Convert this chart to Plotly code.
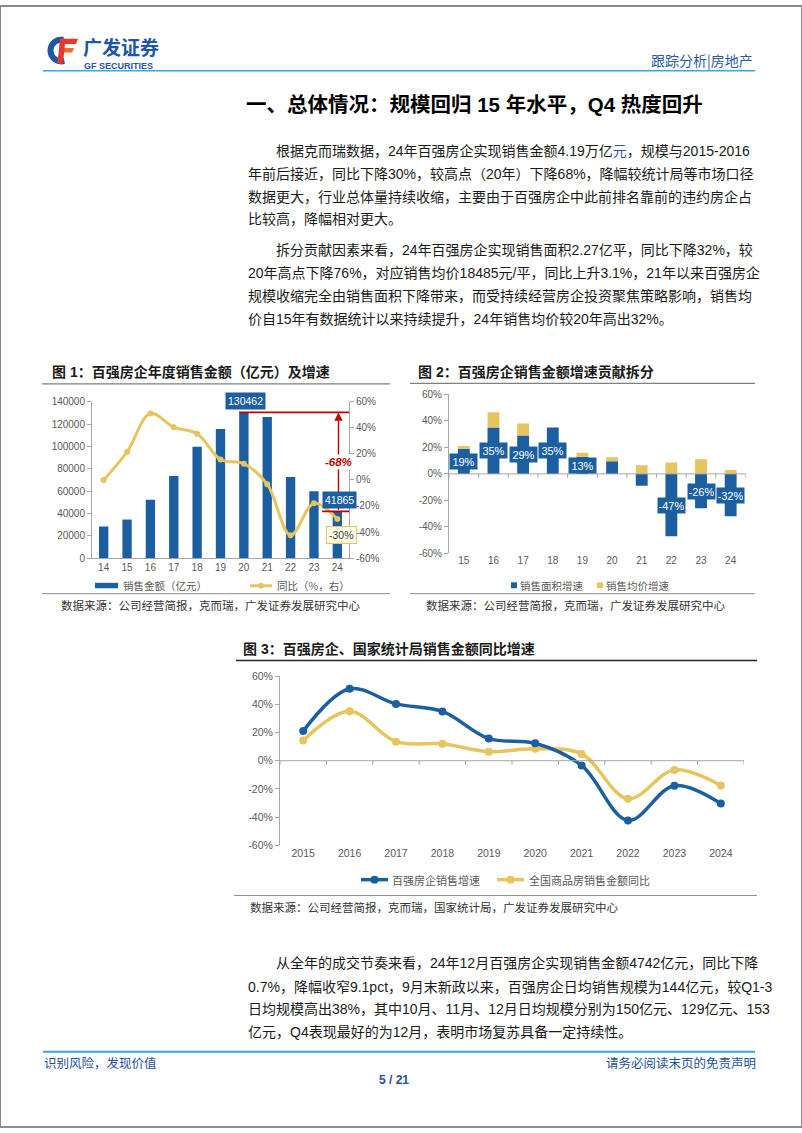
import numpy as np
import plotly.graph_objects as go

W, H = 802, 1133
def px(x): return x / W
def py(y): return 1 - y / H

# ---------------- data ----------------
cat1 = ['14', '15', '16', '17', '18', '19', '20', '21', '22', '23', '24']
sales1 = [28300, 34500, 52300, 73500, 99800, 115500, 130462, 126300, 72600, 59800, 41865]
yoy1 = [0.0, 21.5, 51.0, 40.5, 35.5, 15.7, 12.4, -3.3, -42.5, -18.0, -30.0]
ticks_sales = [0, 20000, 40000, 60000, 80000, 100000, 120000, 140000]
ticks_pct = [-60, -40, -20, 0, 20, 40, 60]
ticks_pct_text = ['-60%', '-40%', '-20%', '0%', '20%', '40%', '60%']

cat2 = ['15', '16', '17', '18', '19', '20', '21', '22', '23', '24']
area2 = [19, 35, 29, 35, 13, 9.5, -9, -47, -26, -32]
price2 = [2, 11.5, 9, 0, 3, 3, 6.5, 8.5, 11, 3]
label2_show = [True, True, True, True, True, False, False, True, True, True]

cat3 = ['2015', '2016', '2017', '2018', '2019', '2020', '2021', '2022', '2023', '2024']
top100_3 = [21.0, 51.0, 40.3, 35.0, 15.7, 12.4, -3.3, -42.4, -17.7, -30.4]
national3 = [14.4, 35.1, 13.5, 12.0, 6.4, 8.5, 4.8, -27.0, -6.5, -17.6]

para1 = [
    "根据克而瑞数据，24年百强房企实现销售金额4.19万亿<span style=\"color:#2a55a0\">元</span>，规模与2015-2016",
    "年前后接近，同比下降30%，较高点（20年）下降68%，降幅较统计局等市场口径",
    "数据更大，行业总体量持续收缩，主要由于百强房企中此前排名靠前的违约房企占",
    "比较高，降幅相对更大。",
]
para2 = [
    "拆分贡献因素来看，24年百强房企实现销售面积2.27亿平，同比下降32%，较",
    "20年高点下降76%，对应销售均价18485元/平，同比上升3.1%，21年以来百强房企",
    "规模收缩完全由销售面积下降带来，而受持续经营房企投资聚焦策略影响，销售均",
    "价自15年有数据统计以来持续提升，24年销售均价较20年高出32%。",
]
para3 = [
    "从全年的成交节奏来看，24年12月百强房企实现销售金额4742亿元，同比下降",
    "0.7%，降幅收窄9.1pct，9月末新政以来，百强房企日均销售规模为144亿元，较Q1-3",
    "日均规模高出38%，其中10月、11月、12月日均规模分别为150亿元、129亿元、153",
    "亿元，Q4表现最好的为12月，表明市场复苏具备一定持续性。",
]

# ---------------- style ----------------
BLUE = '#1c5fa0'
GOLD = '#e6c45e'
RED = '#c00000'
AX = '#a6a6a6'
TXT = '#595959'
NAVY = '#1f56a5'
FONT = 'Liberation Sans, Arial, Noto Sans CJK SC'
CJK = 'Noto Sans CJK SC'
TICKF = dict(family='Liberation Sans, Arial', size=10, color=TXT)
TICKF3 = dict(family='Liberation Sans, Arial', size=10.5, color=TXT)

fig = go.Figure()

x1 = list(range(len(cat1)))
x2 = list(range(len(cat2)))
x3 = list(range(len(cat3)))

# chart 1
fig.add_trace(go.Bar(x=x1, y=sales1, xaxis='x', yaxis='y', width=0.4,
                     marker=dict(color=BLUE, line=dict(width=0)), showlegend=False,
                     name='销售金额（亿元）'))
fig.add_trace(go.Scatter(x=x1, y=yoy1, xaxis='x', yaxis='y2', mode='lines+markers',
                         line=dict(color=GOLD, width=3, shape='spline', smoothing=1),
                         marker=dict(color=GOLD, size=6), showlegend=False,
                         name='同比（%，右）'))
# chart 2
fig.add_trace(go.Bar(x=x2, y=area2, xaxis='x2', yaxis='y3', width=0.4,
                     marker=dict(color=BLUE, line=dict(width=0)), showlegend=False,
                     name='销售面积增速'))
fig.add_trace(go.Bar(x=x2, y=price2, xaxis='x2', yaxis='y3', width=0.4,
                     marker=dict(color=GOLD, line=dict(width=0)), showlegend=False,
                     name='销售均价增速'))
# chart 3
fig.add_trace(go.Scatter(x=x3, y=national3, xaxis='x3', yaxis='y4', mode='lines+markers',
                         line=dict(color=GOLD, width=3.5, shape='spline', smoothing=1),
                         marker=dict(color=GOLD, size=8), showlegend=False,
                         name='全国商品房销售金额同比'))
fig.add_trace(go.Scatter(x=x3, y=top100_3, xaxis='x3', yaxis='y4', mode='lines+markers',
                         line=dict(color=BLUE, width=3.5, shape='spline', smoothing=1),
                         marker=dict(color=BLUE, size=8), showlegend=False,
                         name='百强房企销售增速'))

common_y = dict(showgrid=False, zeroline=False, showline=True, linecolor=AX, linewidth=1,
                ticks='outside', ticklen=4, tickcolor=AX, fixedrange=True)

fig.update_layout(
    width=W, height=H, autosize=False,
    margin=dict(l=0, r=0, t=0, b=0),
    paper_bgcolor='white', plot_bgcolor='rgba(0,0,0,0)',
    barmode='relative', bargap=0.6,
    xaxis=dict(domain=[px(92), px(349)], anchor='y', range=[-0.5, len(cat1) - 0.5],
               tickvals=x1, ticktext=cat1, showline=True, linecolor=AX, ticks='',
               showgrid=False, zeroline=False, tickfont=TICKF),
    yaxis=dict(domain=[py(558), py(400)], anchor='x', range=[0, 140000],
               tickvals=ticks_sales, ticktext=[str(v) for v in ticks_sales],
               tickfont=TICKF, **common_y),
    yaxis2=dict(overlaying='y', side='right', anchor='x', range=[-60, 60],
                tickvals=ticks_pct, ticktext=ticks_pct_text, tickfont=TICKF, **common_y),
    xaxis2=dict(domain=[px(449), px(745.5)], anchor='y3', range=[-0.5, len(cat2) - 0.5],
                tickvals=x2, ticktext=cat2, showline=False, ticks='',
                showgrid=False, zeroline=False, tickfont=TICKF),
    yaxis3=dict(domain=[py(553.3), py(392.5)], anchor='x2', range=[-60, 60],
                tickvals=ticks_pct, ticktext=ticks_pct_text, tickfont=TICKF, **common_y),
    xaxis3=dict(domain=[px(280), px(744)], anchor='y4', range=[-0.5, len(cat3) - 0.5],
                tickvals=x3, ticktext=cat3, showline=False, ticks='',
                showgrid=False, zeroline=False, tickfont=TICKF3),
    yaxis4=dict(domain=[py(848.3), py(677.3)], anchor='x3', range=[-60, 60],
                tickvals=ticks_pct, ticktext=ticks_pct_text, tickfont=TICKF3, **common_y),
)

shapes = []
ann = []

def hline(x0, x1_, y, color, width):
    shapes.append(dict(type='line', xref='paper', yref='paper', x0=px(x0), x1=px(x1_),
                       y0=py(y), y1=py(y), line=dict(color=color, width=width)))

def rect(x0, y0, x1_, y1, color):
    shapes.append(dict(type='rect', xref='paper', yref='paper', x0=px(x0), x1=px(x1_),
                       y0=py(y1), y1=py(y0), fillcolor=color, line=dict(width=0)))

def circ(cx, cy, r, color):
    shapes.append(dict(type='circle', xref='paper', yref='paper', x0=px(cx - r), x1=px(cx + r),
                       y0=py(cy + r), y1=py(cy - r), fillcolor=color, line=dict(width=0)))

def text(x, y, s, size, color='#1a1a1a', anchor='left', family=FONT):
    ann.append(dict(xref='paper', yref='paper', x=px(x), y=py(y), text=s, showarrow=False,
                    xanchor=anchor, yanchor='middle', borderpad=0,
                    font=dict(family=family, size=size, color=color)))

# page border
shapes.append(dict(type='rect', xref='paper', yref='paper', x0=0, x1=1, y0=0, y1=1,
                   line=dict(color='#8c8c8c', width=2), fillcolor='rgba(0,0,0,0)'))

# ---------------- header ----------------
ang = np.linspace(np.radians(80), np.radians(285), 30)
cx, cy, r = 61.5, 45.0, 11.0
pts = [(cx + r * np.cos(a), cy - r * np.sin(a)) for a in ang]
path = 'M ' + ' L '.join(f'{px(a):.5f},{py(b):.5f}' for a, b in pts)
shapes.append(dict(type='path', xref='paper', yref='paper', path=path,
                   line=dict(color=NAVY, width=6)))
def poly(points, color):
    p = 'M ' + ' L '.join(f'{px(a):.5f},{py(b):.5f}' for a, b in points) + ' Z'
    shapes.append(dict(type='path', xref='paper', yref='paper', path=p,
                       fillcolor=color, line=dict(width=0)))
poly([(60, 33), (78, 33), (76, 38.5), (60, 38.5)], '#e8392c')
poly([(60, 42.5), (74, 42.5), (72, 47), (60, 47)], '#ee6a2a')
poly([(60, 33), (65.5, 33), (63, 58), (57.5, 58)], '#e8392c')
text(82, 40.5, '<b>广发证券</b>', 19, NAVY, family=CJK)
text(83, 60.5, '<b>GF SECURITIES</b>', 9, NAVY, family='Liberation Sans, Arial')
text(754, 55, '跟踪分析|房地产', 14, '#2a5aa5', anchor='right', family=CJK)
hline(43, 755, 65.5, '#3aa7dd', 1.6)

# section title
text(245, 100, '<b>一、总体情况：规模回归 15 年水平，Q4 热度回升</b>', 20.5, '#000000')

# paragraphs
def para(lines, ys):
    for i, (s, y) in enumerate(zip(lines, ys)):
        text(275 if i == 0 else 247, y, s, 14, '#1a1a1a')
para(para1, [147, 170, 193, 215.5])
para(para2, [247, 270, 293, 316])
para(para3, [967.5, 991, 1013.5, 1037])

# footer
hline(43, 755, 1057, '#3aa7dd', 2)
text(43, 1068, '识别风险，发现价值', 12.5, '#1e4f9c', family=CJK)
text(757, 1068, '请务必阅读末页的免责声明', 12.5, '#1e4f9c', anchor='right', family=CJK)
text(394, 1086, '<b>5 / 21</b>', 12, '#1e4f9c', anchor='center', family='Liberation Sans, Arial')

# ---------------- chart frames ----------------
text(51, 369.5, '<b>图 1：百强房企年度销售金额（亿元）及增速</b>', 14, '#1a1a1a')
hline(42, 390, 382, '#7f7f7f', 1.2)
hline(42, 390, 594, '#8c8c8c', 1)
text(60, 605.5, '数据来源：公司经营简报，克而瑞，广发证券发展研究中心', 11.5, '#333333', family=CJK)

text(417, 369.5, '<b>图 2：百强房企销售金额增速贡献拆分</b>', 14, '#1a1a1a')
hline(410, 755, 381.5, '#7f7f7f', 1.2)
hline(410, 755, 594, '#8c8c8c', 1)
text(425, 605.5, '数据来源：公司经营简报，克而瑞，广发证券发展研究中心', 11.5, '#333333', family=CJK)

text(242, 650, '<b>图 3：百强房企、国家统计局销售金额同比增速</b>', 14, '#1a1a1a')
hline(236, 757, 661.5, '#262626', 1.5)
hline(234, 757, 899, '#8c8c8c', 1)
text(249, 911, '数据来源：公司经营简报，克而瑞，国家统计局，广发证券发展研究中心', 11.5, '#333333', family=CJK)

# ---------------- legends ----------------
LEGF = 10.5
rect(95, 583, 118, 588.5, BLUE)
text(122, 586, '销售金额（亿元）', LEGF, TXT, family=CJK)
hline(250, 272, 586, GOLD, 3)
circ(261, 586, 3, GOLD)
text(276, 586, '同比（%，右）', LEGF, TXT, family=CJK)

rect(511, 582.5, 517, 588.5, BLUE)
text(519, 586, '销售面积增速', LEGF, TXT, family=CJK)
rect(597, 582.5, 603, 588.5, GOLD)
text(605, 586, '销售均价增速', LEGF, TXT, family=CJK)

hline(361, 388, 883, BLUE, 3.5)
circ(374.5, 883, 4, BLUE)
text(391, 883, '百强房企销售增速', LEGF + 0.5, TXT, family=CJK)
hline(497, 524, 883, GOLD, 3.5)
circ(510.5, 883, 4, GOLD)
text(528, 883, '全国商品房销售金额同比', LEGF + 0.5, TXT, family=CJK)

# ---------------- chart 2/3 zero axis lines and ticks ----------------
for xr, yr, n, tl in (('x2', 'y3', len(cat2), 3.0), ('x3', 'y4', len(cat3), 2.8)):
    shapes.append(dict(type='line', xref=f'{xr} domain', yref=yr, x0=0, x1=1, y0=0, y1=0,
                       line=dict(color=AX, width=1)))
    for i in range(n + 1):
        shapes.append(dict(type='line', xref=xr, yref=yr, x0=i - 0.5, x1=i - 0.5, y0=0, y1=-tl,
                           line=dict(color=AX, width=1)))

# ---------------- chart 1 annotations ----------------
imax = int(np.argmax(sales1))
ilast = len(sales1) - 1
shapes.append(dict(type='line', xref='x', yref='y', x0=imax - 0.2, x1=ilast + 0.63,
                   y0=sales1[imax], y1=sales1[imax], line=dict(color=RED, width=1.6)))
shapes.append(dict(type='line', xref='x', yref='y', x0=ilast - 0.65, x1=ilast + 0.78,
                   y0=sales1[ilast], y1=sales1[ilast], line=dict(color=RED, width=1.6)))
ann.append(dict(xref='x', yref='y', axref='x', ayref='y', x=ilast + 0.05, y=sales1[imax],
                ax=ilast + 0.05, ay=sales1[ilast], text='', showarrow=True, arrowhead=2,
                arrowsize=1.2, arrowwidth=1.4, arrowcolor=RED, standoff=0, startstandoff=0))
drop = round((sales1[ilast] / sales1[imax] - 1) * 100)
ann.append(dict(xref='x', yref='y', x=ilast + 0.07, y=(sales1[imax] + sales1[ilast]) / 2,
                text=f'<b><i>{drop}%</i></b>', showarrow=False, bgcolor='white', borderpad=1,
                font=dict(family='Liberation Sans, Arial', size=11.5, color=RED)))
ann.append(dict(xref='x', yref='y', x=imax, y=sales1[imax], yshift=11, xshift=2,
                text=str(sales1[imax]), showarrow=False, bgcolor=BLUE, borderpad=2,
                font=dict(family='Liberation Sans, Arial', size=10.5, color='white')))
ann.append(dict(xref='x', yref='y', x=ilast, y=sales1[ilast], yshift=11, xshift=2,
                text=str(sales1[ilast]), showarrow=False, bgcolor=BLUE, borderpad=2,
                font=dict(family='Liberation Sans, Arial', size=10.5, color='white')))
ann.append(dict(xref='x', yref='y2', x=ilast, y=yoy1[ilast], yshift=-15.5, xshift=4,
                text=f'{round(yoy1[ilast])}%', showarrow=False, bgcolor='#fffbe8',
                bordercolor=GOLD, borderwidth=1, borderpad=2,
                font=dict(family='Liberation Sans, Arial', size=10.5, color='#404040')))

# ---------------- chart 2 labels ----------------
for i, (v, show) in enumerate(zip(area2, label2_show)):
    if show:
        ann.append(dict(xref='x2', yref='y3', x=i, y=v / 2, text=f'{round(v)}%',
                        showarrow=False, bgcolor=BLUE, borderpad=1, width=25, height=13,
                        font=dict(family='Liberation Sans, Arial', size=11, color='white')))

fig.update_layout(shapes=shapes, annotations=ann)
fig.write_html('out.html', config={'displayModeBar': False})
